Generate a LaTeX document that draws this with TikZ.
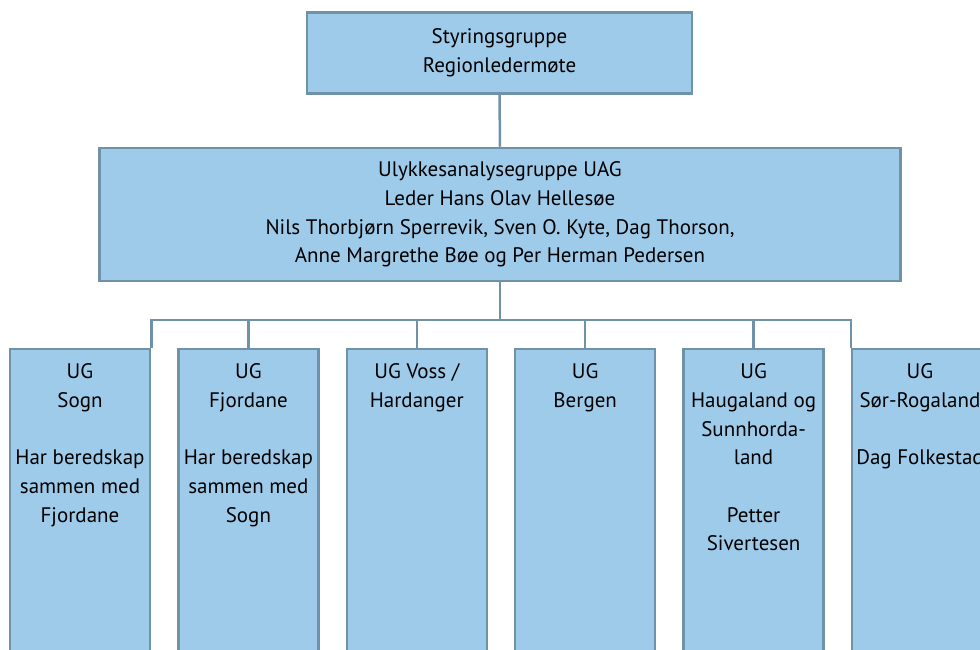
\documentclass[tikz,border=0pt]{standalone}
\usepackage{fontspec}
\setmainfont{PT Sans}
\definecolor{boxfill}{HTML}{9ECBEA}
\definecolor{boxline}{HTML}{7092A8}
\begin{document}
\begin{tikzpicture}[x=1pt,y=-1pt,
  orgbox/.style={draw=boxline,fill=boxfill,line width=2.5pt,rectangle,inner sep=0pt},
  orgtext/.style={align=center,font=\fontsize{21}{28.7}\selectfont,inner sep=0pt},
  ugbox/.style={orgbox,minimum width=140pt,minimum height=320pt,anchor=north},
  ugtext/.style={orgtext,anchor=north},
  link/.style={draw=boxline,line width=2.5pt}]
\useasboundingbox (0,0) rectangle (980,650);
\clip (0,0) rectangle (980,650);
\node[orgbox,minimum width=385pt,minimum height=81pt,orgtext] (top) at (499.5,53) {Styringsgruppe\\Regionledermøte};
\node[orgbox,minimum width=801pt,minimum height=133pt,orgtext] (mid) at (500,214.5) {Ulykkesanalysegruppe UAG\\Leder Hans Olav Hellesøe\\Nils Thorbjørn Sperrevik, Sven O. Kyte, Dag Thorson,\\Anne Margrethe Bøe og Per Herman Pedersen};
\node[ugbox] (ub1) at (80,347.5) {};
\node[ugbox] (ub2) at (248.4,347.5) {};
\node[ugbox] (ub3) at (416.8,347.5) {};
\node[ugbox] (ub4) at (585.2,347.5) {};
\node[ugbox] (ub5) at (753.6,347.5) {};
\node[ugbox] (ub6) at (922,347.5) {};
\node[ugtext] (ut1) at (80,363.5) {UG\\Sogn\\[28.7pt]Har beredskap\\sammen med\\Fjordane};
\node[ugtext] (ut2) at (248.4,363.5) {UG\\Fjordane\\[28.7pt]Har beredskap\\sammen med\\Sogn};
\node[ugtext] (ut3) at (416.8,363.5) {UG Voss /\\Hardanger};
\node[ugtext] (ut4) at (585.2,363.5) {UG\\Bergen};
\node[ugtext] (ut5) at (753.6,363.5) {UG\\Haugaland og\\Sunnhorda-\\land\\[28.7pt]Petter\\Sivertesen};
\node[ugtext] (ut6) at (920,363.5) {UG\\Sør-Rogaland\\[28.7pt]Dag Folkestad};
\coordinate (bus) at (500,320);
\draw[link] (top.south) -- (mid.north);
\draw[link] (mid.south) -- (bus);
\draw[link] (ub1.north east) -- (ub1.north east |- bus) -- (ub6.north west |- bus) -- (ub6.north west);
\foreach \b in {ub2,ub3,ub4,ub5} \draw[link] (\b.north) -- (\b.north |- bus);
\end{tikzpicture}
\end{document}
